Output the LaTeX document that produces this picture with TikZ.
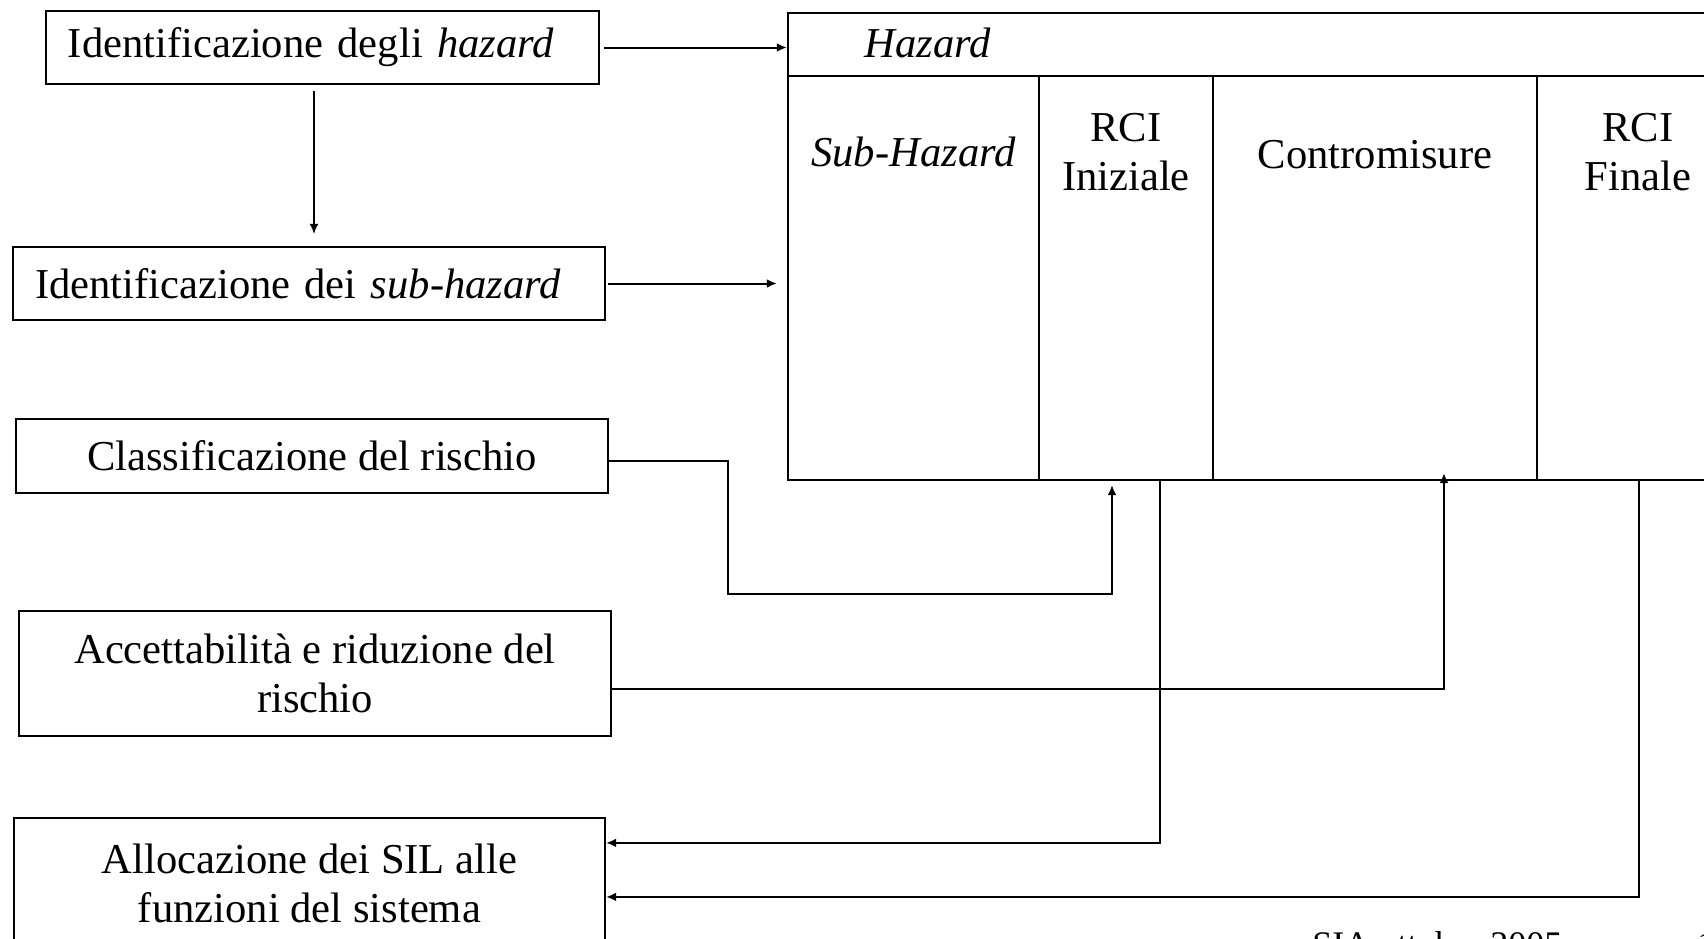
\documentclass[tikz,border=0pt]{standalone}
\usepackage{fontspec}
\setmainfont{Liberation Serif}
\usetikzlibrary{arrows.meta}
\begin{document}
\begin{tikzpicture}[x=0.5pt,y=-0.5pt,
  box/.style={draw, line width=1.1pt, inner sep=0pt, font=\fontsize{21.3}{24.5}\selectfont, align=center},
  conn/.style={line width=1pt},
  arr/.style={conn, -{Latex[length=5pt,width=4.4pt]}},
  lbl/.style={font=\fontsize{21.3}{24.5}\selectfont, align=center, inner sep=0pt},
  grid line/.style={line width=1.1pt}]
\useasboundingbox (0,0) rectangle (1704,938);
\clip (0,0) rectangle (1704,938);

% left boxes
\node[box, minimum width=276.5pt, minimum height=36.5pt, text width=254.5pt, align=left] (b1) at (322.5,47.5) {Identificazione degli \textit{hazard}};
\node[box, minimum width=296pt, minimum height=36.5pt, text width=274pt, align=left] (b2) at (309,283.5) {Identificazione dei \textit{sub-hazard}};
\node[box, minimum width=296pt, minimum height=37pt] (b3) at (312,456) {Classificazione del rischio};
\node[box, minimum width=296pt, minimum height=62.5pt] (b4) at (315,673.5) {Accettabilità e riduzione del\\rischio};
\node[box, minimum width=295.5pt, minimum height=65pt] (b5) at (309.5,883) {Allocazione dei SIL alle\\funzioni del sistema};

% table
\node[draw, line width=1.1pt, minimum width=475.5pt, minimum height=233.5pt, inner sep=0pt] (tbl) at (1263.5,246.5) {};
\draw[grid line] (788,76) -- (1739,76);
\draw[grid line] (1039,76) -- (1039,479);
\draw[grid line] (1213,76) -- (1213,479);
\draw[grid line] (1537,76) -- (1537,479);

\node[lbl, anchor=west] (hz) at (864,43) {\textit{Hazard}};
\node[lbl] (sh) at (913.5,152) {\textit{Sub-Hazard}};
\node[lbl] (ri) at (1126,152) {RCI\\Iniziale};
\node[lbl] (cm) at (1375,155) {Contromisure};
\node[lbl] (rf) at (1638,152) {RCI\\Finale};

% connectors
\draw[arr, shorten <=2pt] (b1.east) -- (b1.east -| tbl.west);
\coordinate (c1) at (314,0);
\draw[arr, line width=0.8pt, shorten <=3pt, shorten >=6pt] (b1.south -| c1) -- (b2.north -| c1);
\draw[arr, shorten <=1pt, shorten >=5pt] (b2.east) -- (b2.east -| tbl.west);

\coordinate (k1) at (728,594);
\coordinate (t1) at (1112,485);
\draw[arr] ([yshift=-2.5pt]b3.east) -| (k1) -| (t1);

\coordinate (t2) at (1444,473);
\draw[arr] ([yshift=-7.75pt]b4.east) -| (t2);

\coordinate (s1) at (1160,479);
\coordinate (s2) at (1639,479);
\draw[arr] (s1) |- ([yshift=-13pt]b5.north east);
\draw[arr] (s2) |- ([yshift=-40pt]b5.north east);

% footer
\node[anchor=base west, font=\fontsize{18}{20}\selectfont, inner sep=0pt] (ft) at (1312,956) {SIA ottobre 2005};
\node[anchor=base west, font=\fontsize{18}{20}\selectfont, inner sep=0pt] (pg) at (1697,956) {1};
\end{tikzpicture}
\end{document}
